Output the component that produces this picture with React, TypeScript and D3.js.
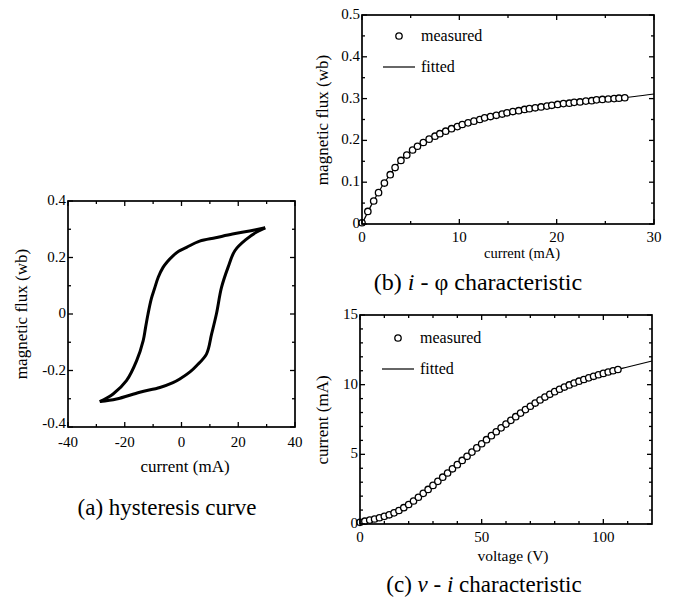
import * as d3 from "d3";

// (a) hysteresis loop
const HYST_UP_I = [29.5, 24, 18, 12, 6.4, 1.8, -1, -3, -5, -6.5, -8.2, -9.5, -10.6, -11.8, -12.7, -13.5, -15.8, -19.4, -24.1, -28.8];
const HYST_UP_PHI = [0.305, 0.294, 0.283, 0.27, 0.258, 0.236, 0.222, 0.206, 0.185, 0.165, 0.13, 0.09, 0.055, 0.0, -0.05, -0.094, -0.165, -0.236, -0.283, -0.31];
const HYST_DN_I = [-28.8, -22.9, -14.7, -7.6, -3, -0.6, 3, 5.3, 8.8, 10.6, 12.3, 14.1, 16.4, 18.8, 22.9, 26.5, 29.5];
const HYST_DN_PHI = [-0.31, -0.301, -0.277, -0.26, -0.243, -0.23, -0.205, -0.183, -0.142, -0.071, 0.0, 0.094, 0.165, 0.224, 0.265, 0.29, 0.305];

// (b) i - phi
const PHI_I = [0, 0.6, 1.2, 1.7, 2.3, 2.9, 3.4, 4.0, 4.6, 5.2, 5.7, 6.3, 6.9, 7.5, 8.0, 8.6, 9.2, 9.8, 10.3, 10.9, 11.5, 12.1, 12.6, 13.2, 13.8, 14.4, 14.9, 15.5, 16.1, 16.7, 17.2, 17.8, 18.4, 19.0, 19.5, 20.1, 20.7, 21.3, 21.8, 22.4, 23.0, 23.6, 24.1, 24.7, 25.3, 25.9, 26.4, 27.0];
const PHI_FLUX = [0.003, 0.03, 0.055, 0.075, 0.098, 0.118, 0.135, 0.152, 0.165, 0.177, 0.186, 0.195, 0.203, 0.21, 0.216, 0.222, 0.228, 0.233, 0.238, 0.242, 0.246, 0.25, 0.254, 0.257, 0.26, 0.263, 0.266, 0.269, 0.271, 0.274, 0.276, 0.278, 0.28, 0.282, 0.284, 0.286, 0.288, 0.289, 0.291, 0.292, 0.294, 0.295, 0.297, 0.298, 0.299, 0.3, 0.301, 0.302];
const FIT_PHI_I = [0, 1, 2, 3, 4, 5, 6, 8, 10, 12, 14, 16, 18, 20, 22, 24, 26, 28, 30];
const FIT_PHI_FLUX = [0, 0.047, 0.088, 0.122, 0.152, 0.175, 0.192, 0.216, 0.235, 0.25, 0.262, 0.271, 0.279, 0.286, 0.292, 0.297, 0.3, 0.305, 0.311];

// (c) v - i
const VI_V = [0, 2, 4, 6, 8, 10, 12, 14, 16, 18, 20, 22, 24, 26, 28, 30, 32, 34, 36, 38, 40, 42, 44, 46, 48, 50, 52, 54, 56, 58, 60, 62, 64, 66, 68, 70, 72, 74, 76, 78, 80, 82, 84, 86, 88, 90, 92, 94, 96, 98, 100, 102, 104, 106];
const VI_I = [0.12, 0.2, 0.28, 0.36, 0.45, 0.55, 0.66, 0.8, 0.97, 1.17, 1.4, 1.65, 1.92, 2.2, 2.48, 2.77, 3.06, 3.36, 3.66, 3.96, 4.26, 4.56, 4.86, 5.16, 5.46, 5.76, 6.05, 6.34, 6.62, 6.9, 7.17, 7.44, 7.7, 7.96, 8.21, 8.45, 8.68, 8.9, 9.11, 9.31, 9.5, 9.67, 9.83, 9.98, 10.12, 10.25, 10.37, 10.49, 10.6, 10.71, 10.81, 10.91, 11.0, 11.09];
const FIT_VI_V = [0, 10, 20, 30, 40, 50, 60, 70, 80, 90, 100, 110, 120];
const FIT_VI_I = [0.1, 0.55, 1.4, 2.77, 4.26, 5.76, 7.17, 8.45, 9.5, 10.25, 10.81, 11.27, 11.7];

// ticks
const A_X_TICKS = [-40, -20, 0, 20, 40];
const A_X_MINOR = [-30, -10, 10, 30];
const A_Y_TICKS = [-0.4, -0.2, 0, 0.2, 0.4];
const A_Y_MINOR = [-0.3, -0.1, 0.1, 0.3];
const B_X_TICKS = [0, 10, 20, 30];
const B_X_MINOR = [5, 15, 25];
const B_Y_TICKS = [0, 0.1, 0.2, 0.3, 0.4, 0.5];
const B_Y_MINOR = [0.05, 0.15, 0.25, 0.35, 0.45];
const C_X_TICKS = [0, 50, 100];
const C_X_MINOR = [10, 20, 30, 40, 60, 70, 80, 90, 110];
const C_Y_TICKS = [0, 5, 10, 15];
const C_Y_MINOR = [1, 2, 3, 4, 6, 7, 8, 9, 11, 12, 13, 14];

const FONT = "'Liberation Serif', 'Times New Roman', serif";

const Frame = ({ x, y, xt, xm, yt, ym, dy }) => {
  const [x0, x1] = x.range();
  const [y0, y1] = y.range();
  const tick = (v, len, horiz) =>
    horiz ? (
      <g key={"x" + v + len}>
        <line x1={x(v)} x2={x(v)} y1={y0} y2={y0 - len} />
        <line x1={x(v)} x2={x(v)} y1={y1} y2={y1 + len} />
      </g>
    ) : (
      <g key={"y" + v + len}>
        <line x1={x0} x2={x0 + len} y1={y(v)} y2={y(v)} />
        <line x1={x1} x2={x1 - len} y1={y(v)} y2={y(v)} />
      </g>
    );
  return (
    <g stroke="#000" strokeWidth={1.3}>
      <rect x={x0} y={y1} width={x1 - x0} height={y0 - y1} fill="none" strokeWidth={1.7} />
      {xt.map(v => tick(v, 5, true))}
      {xm.map(v => tick(v, 3, true))}
      {yt.map(v => tick(v, 5, false))}
      {ym.map(v => tick(v, 3, false))}
      <g stroke="none" fill="#000" fontFamily={FONT} fontSize={15}>
        {xt.map(v => (
          <text key={"lx" + v} x={x(v)} y={y0 + dy} textAnchor="middle">{String(v)}</text>
        ))}
        {yt.map((v, i) => (
          <text key={"ly" + v} x={x0 - 2} y={y(v) + (i === 0 && v < 0 ? 1 : 4)} textAnchor="end">{String(v)}</text>
        ))}
      </g>
    </g>
  );
};

const Markers = ({ x, y, xs, ys }) => (
  <g fill="#fff" stroke="#000" strokeWidth={1.3}>
    {xs.map((v, i) => <circle key={i} cx={x(v)} cy={y(ys[i])} r={3.2} />)}
  </g>
);

const Legend = ({ lx, ly }) => (
  <g fontFamily={FONT} fontSize={16}>
    <circle cx={lx + 16} cy={ly} r={3.2} fill="#fff" stroke="#000" strokeWidth={1.3} />
    <text x={lx + 38} y={ly + 5}>measured</text>
    <line x1={lx} x2={lx + 32} y1={ly + 31} y2={ly + 31} stroke="#000" strokeWidth={1.2} />
    <text x={lx + 38} y={ly + 36}>fitted</text>
  </g>
);

export default function App() {
  const xa = d3.scaleLinear().domain([-40, 40]).range([68, 295]);
  const ya = d3.scaleLinear().domain([-0.4, 0.4]).range([427, 201]);
  const xb = d3.scaleLinear().domain([0, 30]).range([362, 654]);
  const yb = d3.scaleLinear().domain([0, 0.5]).range([224, 15]);
  const xc = d3.scaleLinear().domain([0, 120]).range([360, 652]);
  const yc = d3.scaleLinear().domain([0, 15]).range([524, 315]);

  const lineA = d3.line<[number, number]>().x(d => xa(d[0])).y(d => ya(d[1])).curve(d3.curveCatmullRom);
  const up = HYST_UP_I.map((v, i) => [v, HYST_UP_PHI[i]] as [number, number]);
  const dn = HYST_DN_I.map((v, i) => [v, HYST_DN_PHI[i]] as [number, number]);

  const lineB = d3.line<number>().x(v => xb(v)).y((v, i) => yb(FIT_PHI_FLUX[i])).curve(d3.curveMonotoneX);
  const lineC = d3.line<number>().x(v => xc(v)).y((v, i) => yc(FIT_VI_I[i])).curve(d3.curveMonotoneX);

  return (
    <svg width={674} height={597} style={{ position: "absolute", left: 0, top: 0, background: "#fff" }}>
      {/* (a) */}
      <path d={lineA(up)} fill="none" stroke="#000" strokeWidth={3} />
      <path d={lineA(dn)} fill="none" stroke="#000" strokeWidth={3} />
      <Frame x={xa} y={ya} xt={A_X_TICKS} xm={A_X_MINOR} yt={A_Y_TICKS} ym={A_Y_MINOR} dy={20} />
      <g fontFamily={FONT} fill="#000">
        <text x={185} y={472} fontSize={17} textAnchor="middle">current (mA)</text>
        <text transform="translate(27,314) rotate(-90)" fontSize={17} textAnchor="middle">magnetic flux (wb)</text>
        <text x={167} y={515} fontSize={23} textAnchor="middle">(a) hysteresis curve</text>
      </g>

      {/* (b) */}
      <path d={lineB(FIT_PHI_I)} fill="none" stroke="#000" strokeWidth={1.2} />
      <Markers x={xb} y={yb} xs={PHI_I} ys={PHI_FLUX} />
      <Frame x={xb} y={yb} xt={B_X_TICKS} xm={B_X_MINOR} yt={B_Y_TICKS} ym={B_Y_MINOR} dy={18} />
      <Legend lx={383} ly={36} />
      <g fontFamily={FONT} fill="#000">
        <text x={522} y={258} fontSize={14.5} textAnchor="middle">current (mA)</text>
        <text transform="translate(328,120) rotate(-90)" fontSize={17} textAnchor="middle">magnetic flux (wb)</text>
        <text x={478} y={290} fontSize={24} textAnchor="middle">
          (b) <tspan fontStyle="italic">i</tspan> - φ characteristic
        </text>
      </g>

      {/* (c) */}
      <path d={lineC(FIT_VI_V)} fill="none" stroke="#000" strokeWidth={1.2} />
      <Markers x={xc} y={yc} xs={VI_V} ys={VI_I} />
      <Frame x={xc} y={yc} xt={C_X_TICKS} xm={C_X_MINOR} yt={C_Y_TICKS} ym={C_Y_MINOR} dy={18} />
      <Legend lx={382} ly={338} />
      <g fontFamily={FONT} fill="#000">
        <text x={513} y={561} fontSize={15.5} textAnchor="middle">voltage (V)</text>
        <text transform="translate(328,420) rotate(-90)" fontSize={17} textAnchor="middle">current (mA)</text>
        <text x={484} y={592} fontSize={23} textAnchor="middle">
          (c) <tspan fontStyle="italic">ν</tspan> - <tspan fontStyle="italic">i</tspan> characteristic
        </text>
      </g>
    </svg>
  );
}
